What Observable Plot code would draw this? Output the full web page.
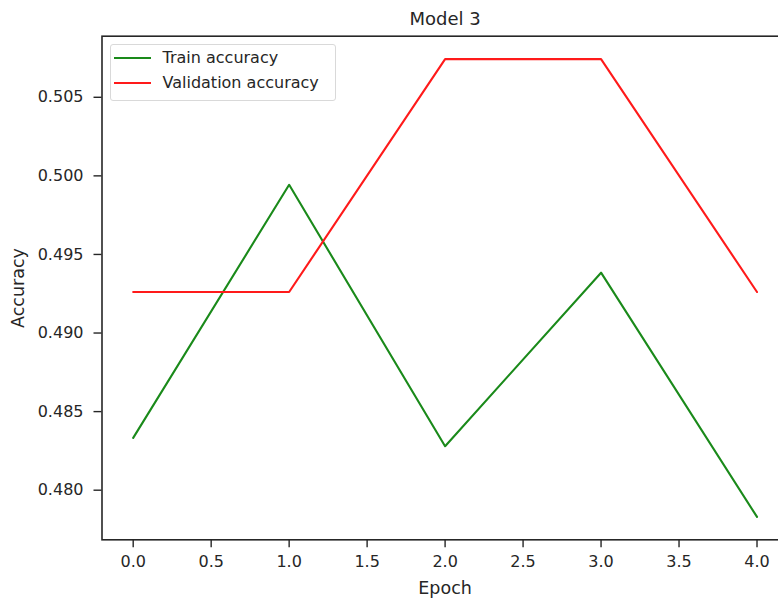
<!DOCTYPE html>
<html>
<head>
<meta charset="utf-8">
<script src="https://cdn.jsdelivr.net/npm/d3@7"></script>
<script src="https://cdn.jsdelivr.net/npm/@observablehq/plot@0.6"></script>
<style>
  html, body { margin: 0; padding: 0; background: white; overflow: hidden; }
  #wrap { position: relative; width: 778px; height: 599px; overflow: hidden; }
  .legend { position: absolute; left: 110px; top: 44px; width: 226px; height: 57px;
    border: 1px solid #d9d9d9; border-radius: 3px; background: rgba(255,255,255,0.8);
    font-family: "DejaVu Sans", sans-serif; font-size: 16px; line-height: 19px; color: #262626; box-sizing: border-box; }
  .legend .row { position: absolute; left: 0; height: 19px; width: 100%; }
  .legend .sw { position: absolute; left: 3px; width: 37px; height: 0; border-top: 2px solid; }
  .legend .lb { position: absolute; left: 51.5px; top: 0; white-space: nowrap; }
</style>
</head>
<body>
<div id="wrap"></div>
<script>
const epochs = [0, 1, 2, 3, 4];
const trainAcc = [0.48333, 0.49943, 0.48280, 0.49384, 0.47830];
const valAcc = [0.49261, 0.49261, 0.50743, 0.50743, 0.49261];
const seriesNames = ["Train accuracy", "Validation accuracy"];
const seriesColors = ["#1a8a1a", "#ff1a1a"];
const xTicks = [0, 0.5, 1, 1.5, 2, 2.5, 3, 3.5, 4];
const yTicks = [0.480, 0.485, 0.490, 0.495, 0.500, 0.505];
const titleText = "Model 3";
const xLabel = "Epoch";
const yLabel = "Accuracy";

const rows = [];
epochs.forEach((e, i) => {
  rows.push({epoch: e, acc: trainAcc[i], series: seriesNames[0]});
  rows.push({epoch: e, acc: valAcc[i], series: seriesNames[1]});
});

// matplotlib-style 5% margins
const all = trainAcc.concat(valAcc);
const [ymin, ymax] = d3.extent(all);
const ypad = (ymax - ymin) * 0.05;
const xpad = (d3.max(epochs) - d3.min(epochs)) * 0.05;

const ink = "#262626";
const chart = Plot.plot({
  width: 778,
  height: 599,
  marginLeft: 101.5,
  marginRight: -9.7,
  marginTop: 35.7,
  marginBottom: 59.7,
  style: {fontFamily: "DejaVu Sans, sans-serif", fontSize: "16px", color: ink, background: "white", overflow: "hidden"},
  x: {domain: [d3.min(epochs) - xpad, d3.max(epochs) + xpad]},
  y: {domain: [ymin - ypad, ymax + ypad]},
  color: {domain: seriesNames, range: seriesColors},
  marks: [
    Plot.frame({stroke: ink, strokeWidth: 1.6}),
    Plot.axisX(xTicks, {tickFormat: d3.format(".1f"), tickSize: 8, tickPadding: 8, strokeWidth: 1.4, stroke: ink,
      label: null, fontSize: 16}),
    Plot.axisY(yTicks, {tickFormat: d3.format(".3f"), tickSize: 8, tickPadding: 10.5, strokeWidth: 1.4, stroke: ink,
      label: null, fontSize: 16}),
    Plot.line(rows, {x: "epoch", y: "acc", z: "series", stroke: "series", strokeWidth: 2.1}),
    Plot.text([titleText], {frameAnchor: "top", lineAnchor: "middle", dy: -17, fontSize: 18, fill: ink}),
    Plot.text([xLabel], {frameAnchor: "bottom", lineAnchor: "middle", dy: 48.3, fontSize: 17.5, fill: ink}),
    Plot.text([yLabel], {frameAnchor: "left", textAnchor: "middle", lineAnchor: "middle", dx: -83.6, rotate: -90, fontSize: 17.5, fill: ink})
  ]
});
const wrap = document.getElementById("wrap");
wrap.appendChild(chart);

const legend = document.createElement("div");
legend.className = "legend";
seriesNames.forEach((name, i) => {
  const row = document.createElement("div");
  row.className = "row";
  row.style.top = (3 + i * 25) + "px";
  const sw = document.createElement("div");
  sw.className = "sw";
  sw.style.borderColor = seriesColors[i];
  sw.style.top = "9px";
  const lb = document.createElement("div");
  lb.className = "lb";
  lb.textContent = name;
  row.appendChild(sw); row.appendChild(lb);
  legend.appendChild(row);
});
wrap.appendChild(legend);
</script>
</body>
</html>
